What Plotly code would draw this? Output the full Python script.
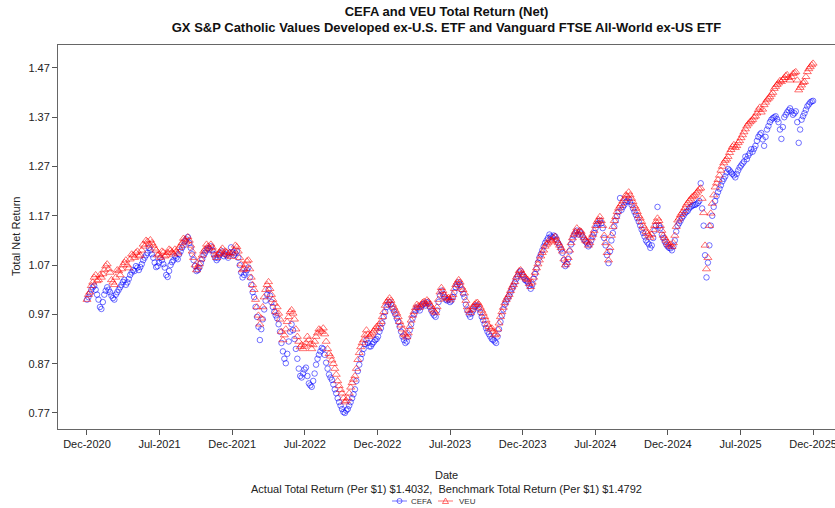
import plotly.graph_objects as go

# values, one sample every 5 trading days,
# plus a second sample in between (offset 2.5 days) to get the daily density
STEP = 5

veu_weekly = [
    1.000, 1.015, 1.035, 1.050, 1.040, 1.045, 1.060, 1.072, 1.055, 1.035, 1.045,
    1.058, 1.062, 1.075, 1.070, 1.082, 1.090, 1.095, 1.088, 1.100, 1.108,
    1.118, 1.121, 1.110, 1.100, 1.092, 1.098, 1.088, 1.095, 1.100, 1.092,
    1.098, 1.105, 1.115, 1.122, 1.127, 1.110, 1.085, 1.060, 1.072, 1.090,
    1.102, 1.108, 1.112, 1.098, 1.085, 1.095, 1.104, 1.098, 1.090, 1.087,
    1.100, 1.107, 1.085, 1.060, 1.070, 1.080, 1.045, 1.020, 0.985, 0.950,
    0.985, 1.020, 1.036, 1.010, 0.992, 0.985, 0.960, 0.918, 0.940, 0.965,
    0.979, 0.960, 0.925, 0.904, 0.900, 0.912, 0.918, 0.900, 0.915, 0.932,
    0.938, 0.942, 0.915, 0.890, 0.877, 0.860, 0.835, 0.817, 0.800, 0.795,
    0.810, 0.831, 0.845, 0.878, 0.904, 0.918, 0.938, 0.925, 0.932, 0.940,
    0.942, 0.955, 0.975, 0.995, 1.003, 0.990, 0.978, 0.965, 0.948, 0.930,
    0.924, 0.945, 0.968, 0.983, 0.987, 0.990, 0.996, 0.999, 0.990, 0.980,
    0.973, 1.000, 1.024, 1.010, 1.002, 0.999, 1.010, 1.030, 1.040, 1.025,
    1.013, 0.985, 0.973, 0.985, 0.993, 0.990, 0.978, 0.965, 0.950, 0.940,
    0.935, 0.930, 0.952, 0.975, 0.993, 1.005, 1.018, 1.030, 1.045, 1.058,
    1.054, 1.045, 1.040, 1.026, 1.045, 1.064, 1.080, 1.095, 1.108, 1.115,
    1.120, 1.125, 1.120, 1.110, 1.098, 1.070, 1.085, 1.115, 1.132, 1.145,
    1.140, 1.130, 1.120, 1.110, 1.125, 1.140, 1.158, 1.168, 1.150, 1.115,
    1.080, 1.130, 1.160, 1.178, 1.190, 1.200, 1.212, 1.218, 1.205, 1.190,
    1.178, 1.165, 1.150, 1.138, 1.130, 1.132, 1.150, 1.165, 1.150, 1.130,
    1.120, 1.110, 1.107, 1.130, 1.161, 1.172, 1.180, 1.192, 1.200, 1.208,
    1.212, 1.220, 1.226, 1.176, 1.062, 1.150, 1.195, 1.228, 1.243, 1.262,
    1.277, 1.285, 1.298, 1.310, 1.308, 1.318, 1.328, 1.340, 1.352, 1.360,
    1.365, 1.372, 1.385, 1.380, 1.395, 1.405, 1.411, 1.420, 1.432, 1.439,
    1.442, 1.450, 1.456, 1.445, 1.458, 1.462, 1.425, 1.435, 1.442, 1.462, 1.472, 1.4792,
]
veu_mid = [
    1.010, 1.028, 1.045, 1.038, 1.050, 1.052, 1.068, 1.062, 1.040, 1.030,
    1.060, 1.050, 1.070, 1.080, 1.064, 1.092, 1.085, 1.098, 1.090, 1.112,
    1.120, 1.112, 1.115, 1.104, 1.090, 1.085, 1.096, 1.090, 1.102, 1.096,
    1.102, 1.094, 1.110, 1.124, 1.118, 1.120, 1.098, 1.070, 1.066, 1.082,
    1.098, 1.112, 1.104, 1.106, 1.090, 1.092, 1.100, 1.092, 1.096, 1.095,
    1.094, 1.110, 1.098, 1.072, 1.062, 1.078, 1.062, 1.030, 1.000, 0.968,
    0.962, 1.005, 1.030, 1.022, 1.000, 0.975, 0.972, 0.935, 0.928, 0.955,
    0.975, 0.972, 0.940, 0.915, 0.908, 0.905, 0.925, 0.910, 0.908, 0.925,
    0.940, 0.935, 0.930, 0.900, 0.885, 0.870, 0.848, 0.825, 0.810, 0.792,
    0.800, 0.822, 0.838, 0.860, 0.892, 0.912, 0.928, 0.930, 0.928, 0.936,
    0.945, 0.950, 0.965, 0.988, 0.998, 0.998, 0.984, 0.972, 0.955, 0.940,
    0.928, 0.932, 0.958, 0.975, 0.990, 0.984, 0.994, 0.992, 0.996, 0.986,
    0.976, 0.985, 1.015, 1.018, 1.005, 1.004, 1.004, 1.022, 1.035, 1.035,
    1.020, 0.998, 0.978, 0.980, 0.990, 0.994, 0.984, 0.972, 0.958, 0.945,
    0.942, 0.928, 0.940, 0.965, 0.984, 1.000, 1.010, 1.025, 1.036, 1.050,
    1.060, 1.050, 1.042, 1.032, 1.035, 1.055, 1.072, 1.088, 1.100, 1.112,
    1.122, 1.118, 1.128, 1.115, 1.105, 1.082, 1.075, 1.100, 1.125, 1.138,
    1.135, 1.138, 1.125, 1.118, 1.115, 1.132, 1.150, 1.162, 1.160, 1.130,
    1.095, 1.105, 1.148, 1.168, 1.185, 1.194, 1.205, 1.210, 1.212, 1.198,
    1.185, 1.170, 1.158, 1.145, 1.134, 1.126, 1.142, 1.158, 1.160, 1.140,
    1.125, 1.115, 1.112, 1.115, 1.148, 1.165, 1.176, 1.186, 1.196, 1.204,
    1.210, 1.216, 1.224, 1.205, 1.110, 1.085, 1.175, 1.212, 1.236, 1.252,
    1.270, 1.282, 1.290, 1.304, 1.314, 1.312, 1.322, 1.334, 1.346, 1.356,
    1.362, 1.370, 1.378, 1.390, 1.386, 1.400, 1.408, 1.416, 1.428, 1.436,
    1.444, 1.446, 1.454, 1.450, 1.452, 1.460, 1.445, 1.430, 1.440, 1.452, 1.468, 1.476,
]

cefa_weekly = [
    1.000, 1.012, 1.025, 1.020, 1.000, 0.981, 1.010, 1.025, 1.015, 1.003, 1.010,
    1.020, 1.030, 1.040, 1.035, 1.050, 1.060, 1.068, 1.060, 1.072, 1.085,
    1.095, 1.100, 1.085, 1.066, 1.075, 1.080, 1.065, 1.046, 1.070, 1.080,
    1.085, 1.092, 1.105, 1.118, 1.127, 1.105, 1.080, 1.058, 1.065, 1.082,
    1.095, 1.104, 1.108, 1.092, 1.080, 1.090, 1.098, 1.092, 1.085, 1.106,
    1.090, 1.098, 1.070, 1.045, 1.055, 1.065, 1.030, 1.005, 0.965, 0.918,
    0.960, 0.998, 1.020, 0.995, 0.975, 0.962, 0.935, 0.895, 0.871, 0.915,
    0.950, 0.920, 0.880, 0.845, 0.850, 0.862, 0.830, 0.823, 0.850, 0.880,
    0.895, 0.900, 0.872, 0.848, 0.837, 0.818, 0.800, 0.785, 0.772, 0.775,
    0.785, 0.800, 0.818, 0.855, 0.880, 0.900, 0.918, 0.905, 0.910, 0.918,
    0.925, 0.942, 0.965, 0.985, 0.995, 0.982, 0.970, 0.955, 0.935, 0.918,
    0.915, 0.938, 0.962, 0.978, 0.982, 0.986, 0.992, 0.995, 0.985, 0.972,
    0.965, 0.995, 1.018, 1.005, 0.998, 0.995, 1.005, 1.025, 1.035, 1.020,
    1.005, 0.978, 0.965, 0.978, 0.988, 0.982, 0.965, 0.950, 0.935, 0.925,
    0.918, 0.912, 0.940, 0.968, 0.990, 1.002, 1.015, 1.028, 1.042, 1.055,
    1.050, 1.040, 1.035, 1.022, 1.042, 1.062, 1.085, 1.100, 1.115, 1.125,
    1.128, 1.130, 1.122, 1.110, 1.095, 1.068, 1.082, 1.112, 1.130, 1.140,
    1.138, 1.128, 1.118, 1.108, 1.120, 1.135, 1.152, 1.160, 1.145, 1.110,
    1.074, 1.120, 1.148, 1.170, 1.206, 1.188, 1.198, 1.205, 1.192, 1.178,
    1.165, 1.150, 1.135, 1.120, 1.112, 1.110, 1.140, 1.188, 1.145, 1.125,
    1.112, 1.105, 1.100, 1.120, 1.150, 1.160, 1.170, 1.178, 1.185, 1.190,
    1.192, 1.196, 1.236, 1.150, 1.045, 1.110, 1.170, 1.200, 1.218, 1.232,
    1.245, 1.258, 1.262, 1.255, 1.248, 1.262, 1.272, 1.280, 1.285, 1.297,
    1.300, 1.312, 1.330, 1.338, 1.312, 1.345, 1.360, 1.368, 1.372, 1.360,
    1.326, 1.370, 1.380, 1.388, 1.375, 1.382, 1.318, 1.365, 1.378, 1.392, 1.400, 1.4032,
]
cefa_mid = [
    1.005, 1.020, 1.028, 1.010, 0.985, 0.995, 1.018, 1.020, 1.008, 1.000,
    1.015, 1.025, 1.036, 1.030, 1.042, 1.055, 1.058, 1.065, 1.066, 1.080,
    1.090, 1.105, 1.092, 1.075, 1.068, 1.085, 1.072, 1.050, 1.058, 1.076,
    1.088, 1.082, 1.098, 1.110, 1.122, 1.115, 1.092, 1.068, 1.060, 1.074,
    1.090, 1.100, 1.102, 1.100, 1.085, 1.084, 1.094, 1.088, 1.090, 1.095,
    1.096, 1.094, 1.085, 1.055, 1.050, 1.060, 1.045, 1.015, 0.985, 0.945,
    0.940, 0.980, 1.010, 1.008, 0.985, 0.968, 0.950, 0.912, 0.880, 0.890,
    0.935, 0.938, 0.900, 0.860, 0.842, 0.858, 0.845, 0.826, 0.835, 0.868,
    0.888, 0.902, 0.888, 0.860, 0.842, 0.828, 0.810, 0.792, 0.778, 0.770,
    0.778, 0.792, 0.808, 0.835, 0.868, 0.890, 0.910, 0.912, 0.905, 0.914,
    0.920, 0.935, 0.952, 0.975, 0.990, 0.990, 0.976, 0.962, 0.945, 0.925,
    0.912, 0.925, 0.950, 0.970, 0.984, 0.978, 0.990, 0.988, 0.992, 0.978,
    0.968, 0.978, 1.008, 1.012, 1.000, 1.000, 0.998, 1.015, 1.030, 1.030,
    1.012, 0.990, 0.970, 0.972, 0.985, 0.988, 0.974, 0.958, 0.942, 0.930,
    0.920, 0.915, 0.925, 0.955, 0.980, 0.996, 1.008, 1.022, 1.035, 1.048,
    1.058, 1.046, 1.038, 1.028, 1.030, 1.052, 1.075, 1.092, 1.108, 1.120,
    1.132, 1.126, 1.128, 1.115, 1.102, 1.080, 1.072, 1.098, 1.122, 1.135,
    1.132, 1.134, 1.122, 1.114, 1.112, 1.128, 1.145, 1.155, 1.155, 1.125,
    1.090, 1.098, 1.135, 1.160, 1.178, 1.182, 1.192, 1.200, 1.198, 1.185,
    1.172, 1.158, 1.142, 1.128, 1.116, 1.105, 1.125, 1.150, 1.150, 1.132,
    1.118, 1.108, 1.104, 1.108, 1.138, 1.155, 1.166, 1.175, 1.180, 1.188,
    1.192, 1.194, 1.200, 1.185, 1.090, 1.075, 1.150, 1.188, 1.210, 1.225,
    1.240, 1.250, 1.265, 1.258, 1.252, 1.255, 1.268, 1.276, 1.290, 1.292,
    1.305, 1.306, 1.322, 1.335, 1.325, 1.330, 1.352, 1.365, 1.370, 1.366,
    1.345, 1.350, 1.375, 1.384, 1.382, 1.378, 1.360, 1.345, 1.372, 1.385, 1.396, 1.402,
]

tick_labels = ["Dec-2020", "Jul-2021", "Dec-2021", "Jul-2022", "Dec-2022", "Jul-2023",
               "Dec-2023", "Jul-2024", "Dec-2024", "Jul-2025", "Dec-2025"]
tick_every = 126  # trading days between labels
y_ticks = [0.77, 0.87, 0.97, 1.07, 1.17, 1.27, 1.37, 1.47]

BLUE = "rgba(0,0,255,0.55)"
RED = "rgba(255,0,0,0.55)"
FONT = "Liberation Sans, Arial, sans-serif"


def merge(weekly, mid):
    xs, ys = [], []
    for i, v in enumerate(weekly):
        xs.append(i * STEP)
        ys.append(v)
        if i < len(mid):
            xs.append(i * STEP + STEP / 2)
            ys.append(mid[i])
    return xs, ys


x_cefa, cefa = merge(cefa_weekly, cefa_mid)
x_veu, veu = merge(veu_weekly, veu_mid)

W, H = 835, 508
L, R, T, B = 58, 0, 45, 79
plot_w, plot_h = W - L - R, H - T - B


def px(x):
    return (x - L) / plot_w


def py(y):
    return (H - B - y) / plot_h


fig = go.Figure()
fig.add_trace(go.Scatter(x=x_cefa, y=cefa, mode="markers", name="CEFA", showlegend=False,
                         marker=dict(symbol="circle-open", size=5.5, color=BLUE,
                                     line=dict(width=1, color=BLUE))))
fig.add_trace(go.Scatter(x=x_veu, y=veu, mode="markers", name="VEU", showlegend=False,
                         marker=dict(symbol="triangle-up-open", size=7, color=RED,
                                     line=dict(width=1, color=RED))))

# small R-style legend ("-o-" and "-^-") under the footnote
leg_y = 501
shapes = [
    dict(type="line", xref="paper", yref="paper", x0=px(392), x1=px(407),
         y0=py(leg_y), y1=py(leg_y), line=dict(color=BLUE, width=1)),
    dict(type="circle", xref="paper", yref="paper", x0=px(397), x1=px(402),
         y0=py(leg_y + 2.5), y1=py(leg_y - 2.5), line=dict(color=BLUE, width=1)),
    dict(type="line", xref="paper", yref="paper", x0=px(438), x1=px(453),
         y0=py(leg_y), y1=py(leg_y), line=dict(color=RED, width=1)),
    dict(type="path", xref="paper", yref="paper",
         path=f"M {px(442.5)} {py(leg_y + 2.5)} L {px(448.5)} {py(leg_y + 2.5)} "
              f"L {px(445.5)} {py(leg_y - 3)} Z",
         line=dict(color=RED, width=1)),
]

annotations = [
    dict(text="Total Net Return", x=px(16), y=0.5, xref="paper", yref="paper",
         textangle=-90, showarrow=False, font=dict(size=11), xanchor="center", yanchor="middle"),
    dict(text="Date", x=0.5, y=py(475), xref="paper", yref="paper",
         showarrow=False, font=dict(size=11), yanchor="middle"),
    dict(text="Actual Total Return (Per $1) $1.4032,  Benchmark Total Return (Per $1) $1.4792",
         x=0.5, y=py(489), xref="paper", yref="paper",
         showarrow=False, font=dict(size=11), yanchor="middle"),
    dict(text="CEFA", x=px(409), y=py(leg_y), xref="paper", yref="paper", showarrow=False,
         xanchor="left", yanchor="middle", font=dict(size=8, color="#333")),
    dict(text="VEU", x=px(457), y=py(leg_y), xref="paper", yref="paper", showarrow=False,
         xanchor="left", yanchor="middle", font=dict(size=8, color="#333")),
]

fig.update_layout(
    width=W, height=H,
    margin=dict(l=L, r=R, t=T, b=B),
    plot_bgcolor="white", paper_bgcolor="white",
    font=dict(family=FONT, size=11, color="#222"),
    title=dict(text="<b>CEFA and VEU Total Return (Net)<br>GX S&P Catholic Values Developed "
                    "ex-U.S. ETF and Vanguard FTSE All-World ex-US ETF</b>",
               x=0.5, xref="paper", xanchor="center", yref="container", y=1 - 15.5 / H,
               yanchor="middle", font=dict(size=13, color="#111")),
    showlegend=False,
    shapes=shapes,
    annotations=annotations,
)

fig.update_xaxes(range=[-50.3, 1298], tickmode="array",
                 tickvals=[i * tick_every for i in range(len(tick_labels))],
                 ticktext=tick_labels, ticks="outside", ticklen=5, tickcolor="#555",
                 ticklabeloverflow="allow", automargin=False,
                 showline=True, linecolor="#666", linewidth=1, mirror=True,
                 showgrid=False, zeroline=False)
fig.update_yaxes(range=[0.7375, 1.5165], tickmode="array", tickvals=y_ticks,
                 ticktext=[f"{v:.2f}" for v in y_ticks], ticks="outside", ticklen=5,
                 tickcolor="#555", showline=True, linecolor="#666", linewidth=1,
                 automargin=False, showgrid=False, zeroline=False)

# drop the browser's default page margin so the figure sits at the window's corner
fig.write_html("out.html", config={"displayModeBar": False},
               post_script="document.body.style.margin='0';")
